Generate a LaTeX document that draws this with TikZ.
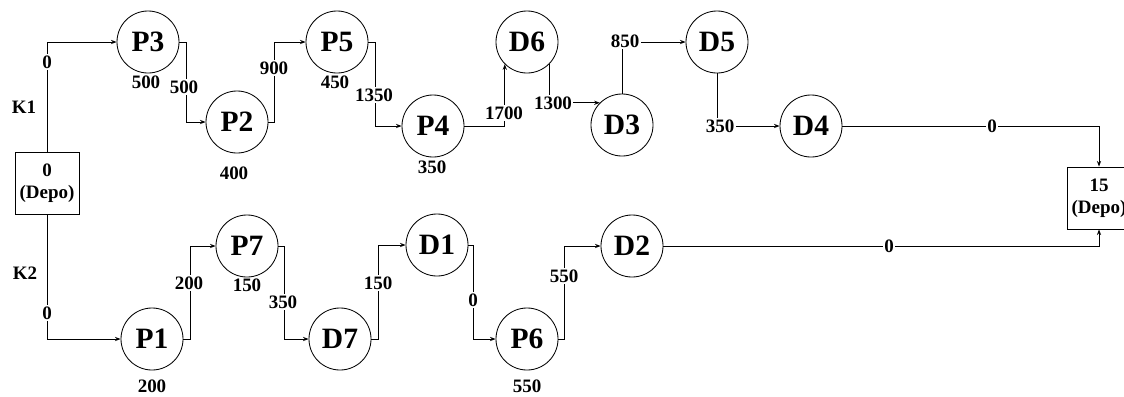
\documentclass[tikz,border=0pt]{standalone}
\usepackage{fontspec}
\setmainfont{Liberation Serif}
\usepackage{tikz}
\usetikzlibrary{positioning, arrows.meta}

\tikzset{
    stop/.style={draw, circle, line width=0.6pt, minimum size=1.55cm, inner sep=0pt, font=\fontsize{21}{21}\selectfont\bfseries},
    depot/.style={draw, line width=0.6pt, minimum width=1.6cm, minimum height=1.55cm, align=center, inner sep=0pt, font=\fontsize{13.5}{16}\selectfont\bfseries},
    route/.style={line width=0.6pt, -{Stealth[length=4pt, width=3pt]}},
    lbl/.style={fill=white, inner sep=1pt, font=\fontsize{13.5}{13.5}\selectfont\bfseries},
    load/.style={inner sep=0pt, font=\fontsize{13.5}{13.5}\selectfont\bfseries}
}

\begin{document}
\begin{tikzpicture}[x=0.025cm, y=-0.025cm]
    \useasboundingbox (0,0) rectangle (1124,396);
    % depots
    \node[depot] (dep0) at (47,183) {0\\(Depo)};
    \node[depot] (dep15) at (1099,198) {15\\(Depo)};
    % K1 route
    \node[stop] (P3) at (148,42) {P3};
    \node[stop] (P2) at (237,122) {P2};
    \node[stop] (P5) at (337,42) {P5};
    \node[stop] (P4) at (433,126) {P4};
    \node[stop] (D6) at (527,42) {D6};
    \node[stop] (D3) at (622,125) {D3};
    \node[stop] (D5) at (717,42) {D5};
    \node[stop] (D4) at (811,126) {D4};
    % K2 route
    \node[stop] (P1) at (152,339) {P1};
    \node[stop] (P7) at (247,246) {P7};
    \node[stop] (D7) at (340,339) {D7};
    \node[stop] (D1) at (437,245) {D1};
    \node[stop] (P6) at (527,339) {P6};
    \node[stop] (D2) at (632,246) {D2};

    \draw[route] (dep0.north) |- (P3.west);
    \draw[route] (P3.east) -- ++(7,0) |- (P2.west);
    \draw[route] (P2.east) -- ++(6,0) |- (P5.west);
    \draw[route] (P5.east) -- ++(7,0) |- (P4.west);
    \draw[route] (P4.east) -| (D6.225);
    \draw[route] (D6.315) |- (D3.135);
    \draw[route] (D3.north) |- (D5.west);
    \draw[route] (D5.south) |- (D4.west);
    \draw[route] (D4.east) -| (dep15.north);

    \draw[route] (dep0.south) |- (P1.west);
    \draw[route] (P1.east) -- ++(7,0) |- (P7.west);
    \draw[route] (P7.east) -- ++(6,0) |- (D7.west);
    \draw[route] (D7.east) -- ++(7,0) |- (D1.west);
    \draw[route] (D1.east) -- ++(5,0) |- (P6.west);
    \draw[route] (P6.east) -- ++(6,0) |- (D2.west);
    \draw[route] (D2.east) -| (dep15.south);

    % edge values
    \node[lbl] at (47,62) {0};
    \node[lbl] at (184,87) {500};
    \node[lbl] at (274,68) {900};
    \node[lbl] at (374,95) {1350};
    \node[lbl] at (504,113) {1700};
    \node[lbl] at (553,103) {1300};
    \node[lbl] at (625,41) {850};
    \node[lbl] at (720,126) {350};
    \node[lbl] at (992,126) {0};
    \node[lbl] at (47,313) {0};
    \node[lbl] at (189,283) {200};
    \node[lbl] at (283,302) {350};
    \node[lbl] at (378,283) {150};
    \node[lbl] at (473,300) {0};
    \node[lbl] at (564,276) {550};
    \node[lbl] at (889,246) {0};
    % loads
    \node[load] at (146,82) {500};
    \node[load] at (234,173) {400};
    \node[load] at (335,82) {450};
    \node[load] at (432,167) {350};
    \node[load] at (152,386) {200};
    \node[load] at (247,285) {150};
    \node[load] at (527,386) {550};
    % vehicles
    \node[load] at (24,107) {K1};
    \node[load] at (25,273) {K2};
\end{tikzpicture}
\end{document}
